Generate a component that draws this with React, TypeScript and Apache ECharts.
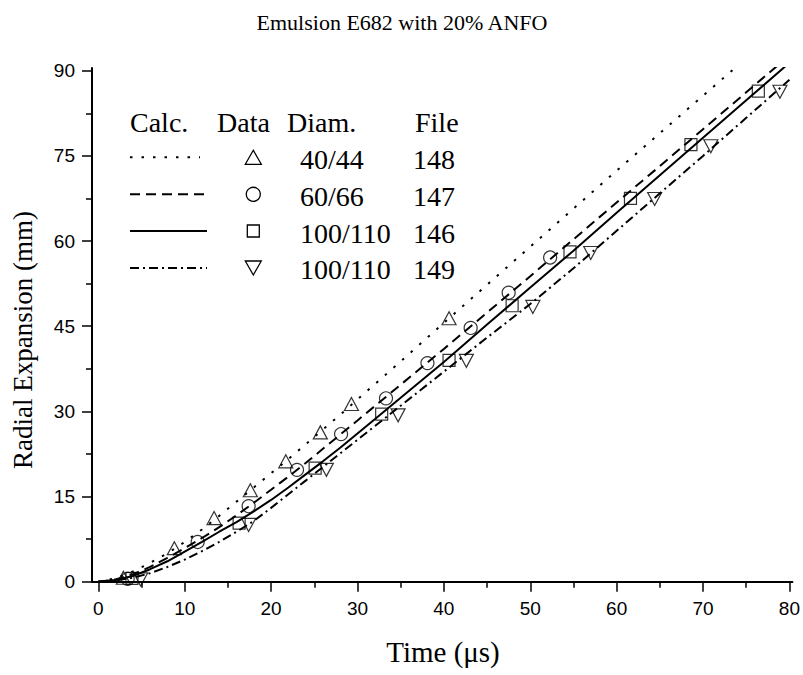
import React, { useEffect, useRef } from "react";
import * as echarts from "echarts";

const chartTitle = "Emulsion E682 with 20% ANFO";
const xAxisTitle = "Time (μs)";
const yAxisTitle = "Radial Expansion (mm)";

const xMajorTicks = [0, 10, 20, 30, 40, 50, 60, 70, 80];
const xMinorTicks = [5, 15, 25, 35, 45, 55, 65, 75];
const yMajorTicks = [0, 15, 30, 45, 60, 75, 90];
const yMinorTicks = [7.5, 22.5, 37.5, 52.5, 67.5, 82.5];

const legendHeader = ["Calc.", "Data", "Diam.", "File"];
const diameters = ["40/44", "60/66", "100/110", "100/110"];
const files = ["148", "147", "146", "149"];

// calculated curves
const calc148 = [
  [0, 0], [2, 0.6], [4, 1.8], [6, 3.3], [8, 5.0], [10, 7.0], [12, 9.2], [14, 11.6],
  [16, 14.1], [18, 16.6], [20, 19.1], [22, 21.6], [24, 24.2], [26, 26.8], [28, 29.4],
  [30, 32.1], [35, 38.8], [40, 45.6], [45, 52.3], [50, 59.0], [55, 65.7], [60, 72.4],
  [65, 79.0], [70, 85.6], [75, 92.2],
];
const calc147 = [
  [0, 0], [2, 0.4], [4, 1.3], [6, 2.6], [8, 4.2], [10, 5.9], [12, 7.7], [14, 9.6],
  [16, 11.7], [18, 13.9], [20, 16.2], [22, 18.5], [24, 20.9], [26, 23.4], [28, 25.9],
  [30, 28.4], [35, 34.7], [40, 41.0], [45, 47.4], [50, 53.8], [55, 60.3], [60, 66.8],
  [65, 73.2], [70, 79.7], [75, 86.2], [78, 90.1], [80, 92.7],
];
const calc146 = [
  [0, 0], [2, 0.3], [4, 1.0], [6, 2.2], [8, 3.6], [10, 5.3], [12, 7.0], [14, 8.8],
  [16, 10.5], [18, 12.4], [20, 14.4], [22, 16.6], [24, 18.9], [26, 21.2], [28, 23.6],
  [30, 26.1], [32, 28.6], [35, 32.4], [40, 38.7], [45, 45.3], [50, 51.8], [55, 58.3],
  [60, 65.0], [65, 71.6], [70, 78.2], [75, 84.8], [80, 91.4],
];
const calc149 = [
  [0, 0], [2, 0.2], [4, 0.7], [6, 1.5], [8, 2.6], [10, 3.9], [12, 5.4], [14, 7.0],
  [16, 8.8], [18, 10.7], [20, 13.0], [22, 15.4], [24, 17.8], [26, 20.2], [28, 22.6],
  [30, 25.0], [35, 31.0], [40, 37.0], [45, 43.0], [50, 48.9], [55, 55.2], [60, 61.8],
  [65, 68.4], [70, 75.0], [75, 81.7], [80, 88.4],
];

// measured data
const data148 = [
  [2.9, 0.7], [8.8, 5.9], [13.4, 11.2], [17.6, 16.1], [21.7, 21.2], [25.7, 26.3],
  [29.3, 31.3], [40.6, 46.4],
];
const data147 = [
  [3.4, 0.5], [11.5, 7.0], [17.4, 13.3], [23.0, 19.7], [28.1, 26.0], [33.3, 32.3],
  [38.1, 38.5], [43.1, 44.7], [47.5, 50.9], [52.3, 57.1],
];
const data146 = [
  [3.9, 0.6], [16.3, 10.3], [25.1, 20.0], [32.8, 29.5], [40.6, 39.0], [47.9, 48.6],
  [54.6, 58.1], [61.6, 67.5], [68.6, 77.0], [76.4, 86.4],
];
const data149 = [
  [4.9, 0.4], [17.4, 10.0], [26.4, 19.7], [34.7, 29.3], [42.6, 38.9], [50.3, 48.4],
  [57.0, 57.9], [64.4, 67.4], [70.9, 76.7], [78.9, 86.3],
];

const SERIF = "Liberation Serif";
const SANS = "Liberation Sans";
const BLACK = "#000";

const lineTypes: any[] = [[2.5, 9], [10, 6], "solid", [9, 4, 2, 4]];

export default function App() {
  const ref = useRef<HTMLDivElement>(null);

  useEffect(() => {
    if (!ref.current) return;
    const chart = echarts.init(ref.current, undefined, { renderer: "svg" });

    const xMin = -0.73, xMax = 80.35, yMin = 0, yMax = 90.48;

    const mkX = (ticks: number[], len: number, main: boolean) => ({
      type: "value",
      min: xMin,
      max: xMax,
      position: "bottom",
      axisLine: { show: main, onZero: false, lineStyle: { color: BLACK, width: 2 } },
      axisTick: { show: true, customValues: ticks, length: len, lineStyle: { color: BLACK, width: 1.5 } },
      axisLabel: main
        ? { show: true, customValues: ticks, margin: 17, fontFamily: SANS, fontSize: 19, color: BLACK }
        : { show: false },
      splitLine: { show: false },
    });
    const mkY = (ticks: number[], len: number, main: boolean) => ({
      type: "value",
      min: yMin,
      max: yMax,
      position: "left",
      axisLine: { show: main, onZero: false, lineStyle: { color: BLACK, width: 2 } },
      axisTick: { show: true, customValues: ticks, length: len, lineStyle: { color: BLACK, width: 1.5 } },
      axisLabel: main
        ? { show: true, customValues: ticks, margin: 17, fontFamily: SANS, fontSize: 19, color: BLACK }
        : { show: false },
      splitLine: { show: false },
    });

    const calcs = [calc148, calc147, calc146, calc149];
    const datas = [data148, data147, data146, data149];
    const symbols = ["triangle", "circle", "rect", "triangle"];
    const sizes: any[] = [[14, 13], 13, 12, [14, 13]];
    const rotates = [0, 0, 0, 180];

    const series: any[] = [];
    calcs.forEach((c, i) => {
      series.push({
        type: "line",
        xAxisIndex: 0,
        yAxisIndex: 0,
        data: c,
        showSymbol: false,
        symbol: "none",
        lineStyle: { color: BLACK, width: 2, type: lineTypes[i] },
        z: 2,
      });
    });
    datas.forEach((d, i) => {
      series.push({
        type: "scatter",
        xAxisIndex: 0,
        yAxisIndex: 0,
        data: d,
        symbol: symbols[i],
        symbolSize: sizes[i],
        symbolRotate: rotates[i],
        itemStyle: { color: "rgba(0,0,0,0)", borderColor: BLACK, borderWidth: 1.2 },
        z: 3,
      });
    });

    // legend table (graphic)
    const g: any[] = [];
    const colX = [130, 217, 287, 415];
    legendHeader.forEach((t, i) => {
      g.push({
        type: "text",
        x: colX[i],
        y: 122,
        style: { text: t, fontFamily: SERIF, fontSize: 28, fill: BLACK, textAlign: "left", textVerticalAlign: "middle" },
      });
    });
    const rowLineY = [157.3, 194.3, 231, 268];
    const rowTextY = [159, 196, 233, 269.5];
    const markerX = 253.3;
    rowLineY.forEach((y, i) => {
      g.push({
        type: "line",
        shape: { x1: 130, y1: y, x2: i === 0 ? 200 : 207, y2: y },
        style: { stroke: BLACK, lineWidth: 2, lineDash: lineTypes[i] === "solid" ? null : lineTypes[i] },
      });
      const mStyle = { fill: "none", stroke: BLACK, lineWidth: 1.3 };
      if (i === 0) {
        g.push({ type: "polygon", shape: { points: [[markerX, y - 7], [markerX - 8, y + 7], [markerX + 8, y + 7]] }, style: mStyle });
      } else if (i === 1) {
        g.push({ type: "circle", shape: { cx: markerX, cy: y, r: 7 }, style: mStyle });
      } else if (i === 2) {
        g.push({ type: "rect", shape: { x: markerX - 6, y: y - 6, width: 12, height: 12 }, style: mStyle });
      } else {
        g.push({ type: "polygon", shape: { points: [[markerX - 8, y - 7], [markerX + 8, y - 7], [markerX, y + 7]] }, style: mStyle });
      }
      g.push({
        type: "text",
        x: 300,
        y: rowTextY[i],
        style: { text: diameters[i], fontFamily: SERIF, fontSize: 28, fill: BLACK, textAlign: "left", textVerticalAlign: "middle" },
      });
      g.push({
        type: "text",
        x: 413,
        y: rowTextY[i],
        style: { text: files[i], fontFamily: SERIF, fontSize: 28, fill: BLACK, textAlign: "left", textVerticalAlign: "middle" },
      });
    });

    g.push({
      type: "text",
      x: 402,
      y: 22,
      style: { text: chartTitle, fontFamily: SERIF, fontSize: 22, fill: BLACK, textAlign: "center", textVerticalAlign: "middle" },
    });
    g.push({
      type: "text",
      x: 443,
      y: 652,
      style: { text: xAxisTitle, fontFamily: SERIF, fontSize: 29, fill: BLACK, textAlign: "center", textVerticalAlign: "middle" },
    });
    g.push({
      type: "text",
      x: 23,
      y: 340,
      rotation: Math.PI / 2,
      style: { text: yAxisTitle, fontFamily: SERIF, fontSize: 27, fill: BLACK, textAlign: "center", textVerticalAlign: "middle" },
    });

    chart.setOption({
      animation: false,
      backgroundColor: "#fff",
      grid: { left: 92, right: 9, top: 68, bottom: 93.3, containLabel: false },
      xAxis: [mkX(xMajorTicks, 10, true), mkX(xMinorTicks, 6, false)],
      yAxis: [mkY(yMajorTicks, 10, true), mkY(yMinorTicks, 6, false)],
      series,
      graphic: g,
    });

    return () => chart.dispose();
  }, []);

  return (
    <div
      ref={ref}
      style={{ position: "absolute", left: 0, top: 0, width: 803, height: 675 }}
    />
  );
}
